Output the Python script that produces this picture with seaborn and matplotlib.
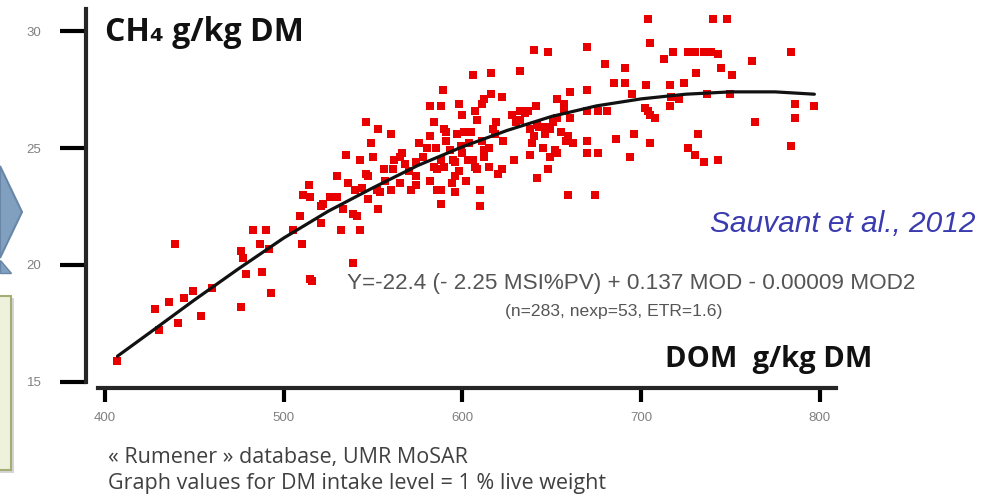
import seaborn as sns
import matplotlib.pyplot as plt
from matplotlib.patches import Polygon, Rectangle
import pandas as pd

# DOM (g/kg DM) for each point
dom = [407, 430, 428, 436, 441, 444, 449, 454, 460, 439, 476, 476, 477, 479, 488, 493,
       483, 490, 487, 492, 505, 509, 510, 515, 516, 514, 511, 515, 521, 521,
       522, 530, 530, 532, 533, 535, 539, 541, 543, 543, 546, 549, 550, 547, 552, 553,
       553, 560, 560, 561, 566, 565, 568, 574, 574, 580, 582, 584, 582, 588, 586, 588,
       588, 591, 589, 596, 596, 598, 600, 601, 605, 607, 608, 610, 610, 611, 612, 565,
       540, 546, 556, 547, 554, 571, 574, 590, 591, 588, 584, 582, 586, 595, 603, 539,
       607, 612, 616, 619, 618, 599, 615, 590, 596, 606, 612, 608, 615, 622,
       593, 598, 602, 594, 600, 604, 557, 562, 570, 578, 576, 585, 597, 544, 536, 526,
       606, 616, 632, 640, 648, 670, 705, 680, 691, 685, 691, 695, 703, 704, 708, 622,
       617, 611, 620, 623, 629, 628, 632, 632, 638, 637, 641, 643, 639, 638, 642, 649,
       653, 649, 651, 653, 657, 660, 658, 662, 659, 674, 670, 670, 670, 670, 676, 676,
       681, 686, 696, 694, 705, 635, 630, 642, 647, 657, 653, 660, 640, 646, 655, 659,
       645, 652, 648,
       704, 740, 748, 713, 718, 726, 730, 735, 739, 743, 731, 745, 751, 762, 784, 716,
       724, 717, 721, 716, 737, 750, 702, 705, 732, 726, 730, 735, 743, 764, 786, 786,
       797, 784]
# CH4 (g/kg DM) for the same points
ch4 = [15.9, 17.2, 18.1, 18.4, 17.5, 18.6, 18.9, 17.8, 19.0, 20.9, 18.2, 20.6, 20.3, 19.6, 19.7, 18.8,
       21.5, 21.5, 20.9, 20.7, 21.5, 22.1, 20.9, 19.4, 19.3, 23.4, 23.0, 22.9, 22.5, 21.8,
       22.6, 23.8, 22.9, 21.5, 22.4, 24.7, 20.1, 22.1, 21.5, 24.5, 26.1, 25.2, 24.6, 23.8, 23.2, 22.4,
       25.8, 25.6, 23.2, 24.1, 24.8, 23.5, 24.3, 24.4, 23.4, 25.0, 25.5, 26.1, 26.8, 26.8, 24.1, 23.2,
       22.6, 25.7, 27.5, 23.8, 23.1, 26.9, 26.4, 25.7, 25.7, 24.2, 26.2, 23.2, 22.5, 26.9, 24.9, 24.6,
       23.2, 23.9, 24.1, 22.8, 23.1, 23.2, 23.8, 25.8, 25.3, 24.5, 24.2, 23.6, 23.2, 24.5, 24.5, 22.2,
       26.6, 27.1, 27.3, 26.1, 25.6, 25.1, 25.0, 24.2, 24.4, 24.5, 24.6, 24.1, 24.2, 24.1,
       24.9, 24.0, 23.6, 23.5, 24.8, 25.2, 23.6, 24.5, 24.0, 24.6, 25.2, 25.0, 25.6, 23.3, 23.5, 22.9,
       28.1, 28.2, 28.3, 29.2, 29.1, 29.3, 29.5, 28.6, 28.4, 27.8, 27.8, 27.3, 27.7, 26.6, 26.3, 27.2,
       25.8, 25.3, 23.9, 25.3, 24.5, 26.4, 26.6, 26.2, 25.8, 26.6, 26.8, 25.9, 25.2, 24.7, 23.7, 24.6,
       24.8, 25.8, 26.1, 27.1, 26.6, 27.4, 25.3, 25.2, 23.0, 23.0, 27.5, 26.6, 25.3, 24.8, 24.8, 26.6,
       26.6, 25.4, 25.6, 24.6, 25.2, 26.5, 26.1, 26.0, 25.9, 26.9, 26.3, 26.3, 25.5, 25.6, 25.7, 25.5,
       25.0, 24.9, 24.1,
       30.5, 30.5, 30.5, 28.8, 29.1, 29.1, 29.1, 29.1, 29.1, 29.0, 28.2, 28.4, 28.1, 28.7, 29.1, 27.7,
       27.8, 27.2, 27.1, 26.8, 27.3, 27.3, 26.7, 26.4, 25.6, 25.0, 24.7, 24.4, 24.5, 26.1, 26.9, 26.3,
       26.8, 25.1]

# fitted curve
curve_dom = [407, 425, 450, 475, 500, 525, 550, 575, 600, 625, 650, 675, 700, 725, 750, 775, 797]
curve_ch4 = [16.1, 17.1, 18.5, 19.85, 21.15, 22.3, 23.3, 24.25, 25.05, 25.75, 26.35, 26.8, 27.1, 27.3,
             27.4, 27.4, 27.3]

x_ticks = [400, 500, 600, 700, 800]
y_ticks = [15, 20, 25, 30]

sns.set_theme(style="ticks")
plt.rcParams['font.family'] = ['Liberation Sans', 'DejaVu Sans']

W, H = 982, 500


def fpx(x, y):
    # pixel position -> figure fraction
    return (x / W, 1 - y / H)


fig = plt.figure(figsize=(W / 100, H / 100), dpi=100)
ax = fig.add_axes([86 / W, 1 - 388 / H, 750 / W, (388 - 9.3) / H])

pts = pd.DataFrame({'DOM': dom, 'CH4': ch4})
sns.scatterplot(data=pts, x='DOM', y='CH4', marker='s', s=30, color='#e80000',
                linewidth=0, ax=ax, zorder=2)
fit = pd.DataFrame({'DOM': curve_dom, 'CH4': curve_ch4})
sns.lineplot(data=fit, x='DOM', y='CH4', color='#111111', linewidth=2.3, ax=ax, zorder=3)

ax.set_xlim(389.4, 809.1)
ax.set_ylim(14.74, 30.93)
ax.set_xticks(x_ticks)
ax.set_yticks(y_ticks)
ax.set_xlabel('')
ax.set_ylabel('')
ax.spines[['right', 'top']].set_visible(False)
ax.spines['left'].set_linewidth(3)
ax.spines['bottom'].set_linewidth(3)
ax.spines['left'].set_bounds(15, 30.93)
ax.spines['bottom'].set_bounds(396.1, 809.1)
ax.tick_params(axis='y', length=19, width=3, pad=13, labelsize=9.5, labelcolor='#808080', color='black')
ax.tick_params(axis='x', length=10, width=3, pad=7, labelsize=9.5, labelcolor='#808080', color='black')

# axis titles inside the plot
fig.text(*fpx(105, 41), 'CH\u2084 g/kg DM', fontsize=23, fontweight='bold',
         family=['Open Sans', 'DejaVu Sans'], color='#111111', va='baseline')
fig.text(*fpx(665, 367), 'DOM  g/kg DM', fontsize=21, fontweight='bold',
         family=['Open Sans', 'DejaVu Sans'], color='#111111', va='baseline')

fig.text(*fpx(975, 232), 'Sauvant et al., 2012', fontsize=21.5, style='italic',
         color='#3b3bb0', ha='right', va='baseline')
fig.text(*fpx(347, 289), 'Y=-22.4 (- 2.25 MSI%PV) + 0.137 MOD - 0.00009 MOD2', fontsize=16.2,
         color='#555555', va='baseline')
fig.text(*fpx(505, 316), '(n=283, nexp=53, ETR=1.6)', fontsize=12.6,
         color='#555555', va='baseline')

fig.text(*fpx(108, 463), '\u00ab Rumener \u00bb database, UMR MoSAR', fontsize=15.5,
         family=['Open Sans', 'DejaVu Sans'], color='#404040', va='baseline')
fig.text(*fpx(108, 489), 'Graph values for DM intake level = 1 % live weight', fontsize=15.5,
         family=['Open Sans', 'DejaVu Sans'], color='#404040', va='baseline')

# slide decorations on the left edge
chevron = [fpx(0, 166), fpx(22, 212), fpx(0, 258)]
fig.add_artist(Polygon(chevron, closed=True, transform=fig.transFigure,
                       facecolor='#819fbf', edgecolor='#6886a8', linewidth=1.5))
tail = [fpx(0, 260), fpx(0, 273), fpx(11, 273)]
fig.add_artist(Polygon(tail, closed=True, transform=fig.transFigure,
                       facecolor='#819fbf', edgecolor='#6886a8', linewidth=1))
sx, sy = fpx(-2, 473)
fig.add_artist(Rectangle((sx, sy), 16 / W, 175 / H, transform=fig.transFigure,
                         facecolor='#d5d5d5', edgecolor='none'))
bx, by = fpx(-2, 470)
fig.add_artist(Rectangle((bx, by), 13 / W, 174 / H, transform=fig.transFigure,
                         facecolor='#eef1dc', edgecolor='#a4ae74', linewidth=1.5))

fig.savefig('out.png', dpi=100)
